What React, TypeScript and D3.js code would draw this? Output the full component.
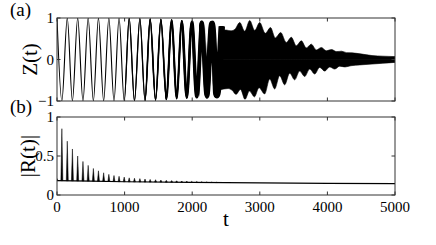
import React from "react";
import * as d3 from "d3";

// ---------- data ----------
const X_TICKS = [0, 1000, 2000, 3000, 4000, 5000];
const X_TICK_LABELS = ["0", "1000", "2000", "3000", "4000", "5000"];
const Z_TICKS = [-1, 0, 1];
const Z_TICK_LABELS = ["\u22121", "0", "1"];
const R_TICKS = [0, 0.5, 1];
const R_TICK_LABELS = ["0", "0.5", "1"];

// extrema of the slow oscillation of Z(t)
const ZEXT_T = [0, 72, 152, 228, 306, 384, 461, 538, 613, 690, 767, 843, 918, 994, 1068, 1146,
  1226, 1302, 1378, 1458, 1537, 1617, 1696, 1770, 1845, 1920, 1993, 2068, 2141, 2215, 2289, 2363, 2437];
const ZEXT_V = [1, -1, 1, -1, 1, -1, 1, -1, 1, -1, 1, -1, 1, -1, 1, -1,
  0.99, -0.99, 0.98, -0.98, 0.97, -0.96, 0.95, -0.94, 0.93, -0.92, 0.91, -0.9, 0.89, -0.88, 0.87, -0.86, 0.8];

// amplitude of the fast component riding on the slow oscillation (thickening of the trace)
const FAST_T = [1000, 1300, 1600, 1850, 2000, 2100, 2200, 2300];
const FAST_A = [0.002, 0.006, 0.011, 0.018, 0.028, 0.038, 0.05, 0.065];

// envelope of the dense band
const BAND_UP_T = [2411, 2500, 2574, 2633, 2703, 2777, 2851, 2925, 2999, 3081, 3158, 3229, 3309, 3392,
  3466, 3540, 3614, 3688, 3762, 3836, 3910, 3984, 4061, 4135, 4209, 4283, 4364, 4512, 4660, 4822, 5000];
const BAND_UP_V = [0.70, 0.71, 0.69, 0.73, 0.89, 0.68, 0.94, 0.70, 0.89, 0.63, 0.77, 0.52, 0.65, 0.41,
  0.535, 0.33, 0.45, 0.28, 0.37, 0.23, 0.29, 0.21, 0.24, 0.19, 0.2, 0.165, 0.16, 0.13, 0.095, 0.08, 0.07];
const BAND_LO_T = [2411, 2530, 2590, 2648, 2714, 2781, 2847, 2921, 2988, 3072, 3146, 3220, 3294, 3368,
  3442, 3516, 3590, 3664, 3738, 3812, 3886, 3960, 4034, 4108, 4182, 4260, 4349, 4482, 4660, 4822, 5000];
const BAND_LO_V = [-0.73, -0.70, -0.74, -0.84, -0.72, -0.96, -0.76, -0.9, -0.68, -0.83, -0.47, -0.71, -0.39, -0.61,
  -0.33, -0.49, -0.28, -0.41, -0.23, -0.35, -0.19, -0.28, -0.18, -0.23, -0.16, -0.18, -0.15, -0.13, -0.11, -0.09, -0.07];

// |R(t)|: baseline level and the spikes at the extrema of Z
const R_BASE_T = [0, 500, 1000, 2000, 3000, 4000, 5000];
const R_BASE_V = [0.185, 0.178, 0.17, 0.162, 0.155, 0.15, 0.145];
const R_SPIKE_T = [0, 72, 152, 228, 306, 384, 461, 538, 613, 690, 767, 843, 918, 994, 1068, 1146,
  1226, 1302, 1378, 1458, 1537, 1617, 1696, 1770, 1845, 1920, 1993, 2068, 2141, 2215, 2289, 2363];
const R_SPIKE_V = [0.21, 0.85, 0.69, 0.59, 0.5, 0.43, 0.38, 0.34, 0.31, 0.285, 0.265, 0.25, 0.24, 0.23, 0.22, 0.215,
  0.21, 0.205, 0.2, 0.196, 0.192, 0.188, 0.185, 0.182, 0.179, 0.176, 0.174, 0.172, 0.17, 0.168, 0.166, 0.164];

// ---------- layout ----------
const W = 436, H = 245;
const L = 57, R = 395;
const A_TOP = 18, A_BOT = 101;
const B_TOP = 117, B_BOT = 195;
const FONT = "Liberation Serif, Times New Roman, DejaVu Serif, serif";
const BOX = "#333";
const TICK = 3.5;

export default function App() {
  const x = d3.scaleLinear().domain([0, 5000]).range([L, R]);
  const yZ = d3.scaleLinear().domain([-1, 1]).range([A_BOT, A_TOP]);
  const yR = d3.scaleLinear().domain([0, 1]).range([B_BOT, B_TOP]);
  const base = d3.scaleLinear().domain(R_BASE_T).range(R_BASE_V);

  const slowPts: [number, number][] = ZEXT_T.map((t, i) => [t, ZEXT_V[i]]);
  const slowPath = d3.line<[number, number]>()
    .x(d => x(d[0])).y(d => yZ(d[1])).curve(d3.curveMonotoneX)(slowPts) || "";

  const upPts: [number, number][] = BAND_UP_T.map((t, i) => [t, BAND_UP_V[i]]);
  const loPts: [number, number][] = BAND_LO_T.map((t, i) => [t, BAND_LO_V[i]]);
  const area = d3.area<[number, number]>()
    .x(d => x(d[0])).y0(yZ(0)).y1(d => yZ(d[1])).curve(d3.curveMonotoneX);
  const upPath = area(upPts) || "";
  const loPath = area(loPts) || "";

  const basePts: [number, number][] = R_BASE_T.map((t, i) => [t, R_BASE_V[i]]);
  const basePath = d3.line<[number, number]>().x(d => x(d[0])).y(d => yR(d[1]))(basePts) || "";

  const spikes = R_SPIKE_T.map((t, i) => {
    const cx = x(t), yb = yR(base(t)), yp = yR(R_SPIKE_V[i]);
    return `M${cx - 1},${yb}L${cx},${yp}L${cx + 1},${yb}Z`;
  });

  const thin = 1.1;
  const txt = { fontFamily: FONT } as React.CSSProperties;

  const axesBox = (top: number, bot: number, yTicks: number[], ys: (v: number) => number,
    labels: string[] | null, yLabels: string[]) => (
    <g>
      <rect x={L} y={top} width={R - L} height={bot - top} fill="none" stroke={BOX} strokeWidth={1} />
      {X_TICKS.map((t, i) => (
        <g key={"xt" + i}>
          <line x1={x(t)} x2={x(t)} y1={bot} y2={bot - TICK} stroke={BOX} strokeWidth={1} />
          <line x1={x(t)} x2={x(t)} y1={top} y2={top + TICK} stroke={BOX} strokeWidth={1} />
          {labels && (
            <text x={x(t)} y={212} textAnchor="middle" fontSize={15} style={txt}>{labels[i]}</text>
          )}
        </g>
      ))}
      {yTicks.map((v, i) => (
        <g key={"yt" + i}>
          <line x1={L} x2={L + TICK} y1={ys(v)} y2={ys(v)} stroke={BOX} strokeWidth={1} />
          <line x1={R} x2={R - TICK} y1={ys(v)} y2={ys(v)} stroke={BOX} strokeWidth={1} />
          <text x={54} y={ys(v)} dy="0.35em" textAnchor="end" fontSize={15} style={txt}>{yLabels[i]}</text>
        </g>
      ))}
    </g>
  );

  return (
    <svg width={W} height={H} style={{ position: "absolute", left: 0, top: 0, background: "#fff" }}>
      <defs>
        <clipPath id="clipA"><rect x={L} y={A_TOP} width={R - L} height={A_BOT - A_TOP} /></clipPath>
        <clipPath id="clipB"><rect x={L} y={B_TOP} width={R - L} height={B_BOT - B_TOP} /></clipPath>
        {FAST_T.map((t, k) => (
          <clipPath id={"fast" + k} key={k}>
            <rect x={x(t)} y={A_TOP} width={R - x(t)} height={A_BOT - A_TOP} />
          </clipPath>
        ))}
      </defs>
      <rect x={0} y={0} width={W} height={H} fill="#fff" />

      {/* panel (a) */}
      <g clipPath="url(#clipA)">
        <path d={slowPath} fill="none" stroke="#000" strokeWidth={thin} />
        {FAST_T.map((t, k) => (
          <g clipPath={`url(#fast${k})`} key={k}>
            <path d={slowPath} fill="none" stroke="#000"
              strokeWidth={thin + 2 * (yZ(0) - yZ(FAST_A[k]))} />
          </g>
        ))}
        <path d={upPath} fill="#000" stroke="#000" strokeWidth={0.6} />
        <path d={loPath} fill="#000" stroke="#000" strokeWidth={0.6} />
      </g>
      {axesBox(A_TOP, A_BOT, Z_TICKS, yZ, null, Z_TICK_LABELS)}

      {/* panel (b) */}
      <g clipPath="url(#clipB)">
        <path d={basePath} fill="none" stroke="#000" strokeWidth={1.2} />
        {spikes.map((d, i) => (
          <path key={i} d={d} fill="#000" stroke="#000" strokeWidth={0.5} />
        ))}
      </g>
      {axesBox(B_TOP, B_BOT, R_TICKS, yR, X_TICK_LABELS, R_TICK_LABELS)}

      {/* labels */}
      <text x={10} y={15.5} fontSize={19} style={txt}>(a)</text>
      <text x={10} y={113} fontSize={19} style={txt}>(b)</text>
      <text transform={`translate(30,${(A_TOP + A_BOT) / 2}) rotate(-90)`} textAnchor="middle"
        dy="0.35em" fontSize={21} style={txt}>Z(t)</text>
      <text transform={`translate(28,${(B_TOP + B_BOT) / 2}) rotate(-90)`} textAnchor="middle"
        dy="0.35em" fontSize={21} style={txt}>|R(t)|</text>
      <text x={226} y={226} textAnchor="middle" fontSize={21} style={txt}>t</text>
    </svg>
  );
}
